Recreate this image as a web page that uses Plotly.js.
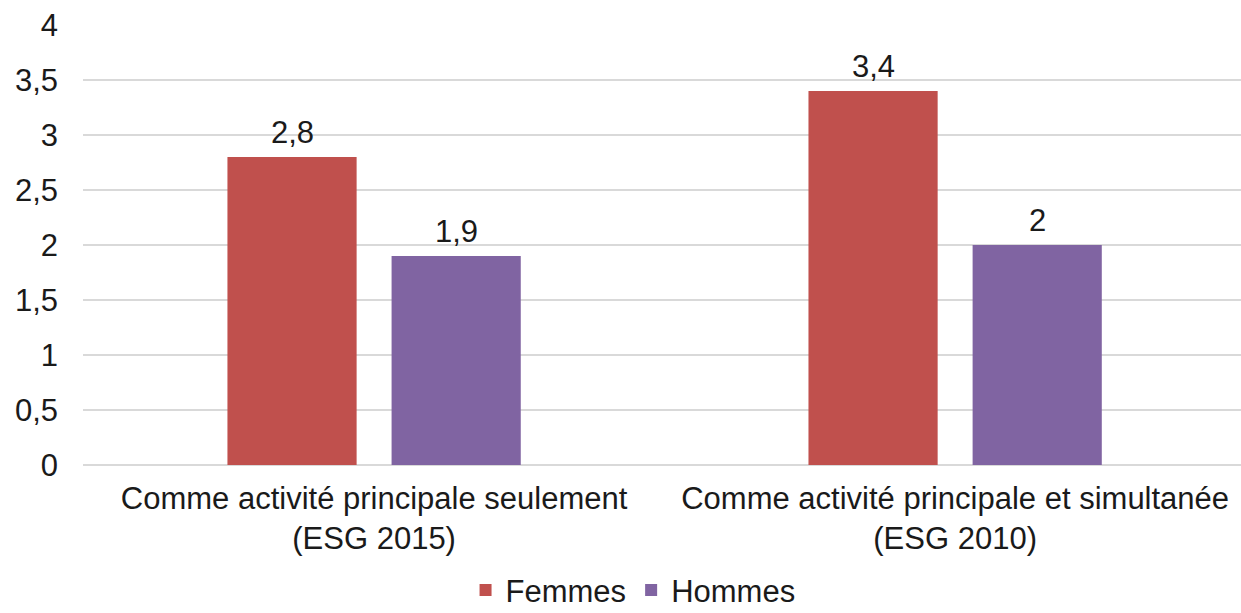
<!DOCTYPE html>
<html><head><meta charset="utf-8">
<script src="https://cdn.plot.ly/plotly-3.0.1.min.js"></script>
<style>html,body{margin:0;padding:0;background:#fff}#chart{width:1241px;height:613px}</style>
</head><body><div id="chart"></div>
<script>
const categories = ["Comme activité principale seulement<br>(ESG 2015)", "Comme activité principale et simultanée<br>(ESG 2010)"];
const femmes = [2.8, 3.4];
const hommes = [1.9, 2];
const seriesNames = ["Femmes", "Hommes"];
const seriesColors = ['#C0504D', '#8064A2'];
const yTicks = [0, 0.5, 1, 1.5, 2, 2.5, 3, 3.5, 4];

const fmt = v => String(v).replace('.', ',');
const font = {family: "Liberation Sans, Arial, sans-serif", size: 31, color: "#1a1a1a"};

const series = [femmes, hommes];
const traces = series.map((vals, i) => ({
  type: 'bar', name: seriesNames[i], x: categories, y: vals, marker: {color: seriesColors[i]},
  hoverinfo: 'none'
}));

// data labels above the bars (offset by half a bar slot in the group)
const annotations = [];
series.forEach((vals, i) => {
  vals.forEach((v, j) => {
    annotations.push({x: categories[j], y: v, text: fmt(v), showarrow: false,
      xshift: (i === 0 ? -82 : 82), yshift: 5, yanchor: 'bottom', font: font});
  });
});

const layout = {
  width: 1241, height: 613,
  margin: {l: 83, r: 0, t: 25, b: 148, autoexpand: false},
  paper_bgcolor: '#fff', plot_bgcolor: '#fff',
  font: font,
  barmode: 'group', bargap: 0.435, bargroupgap: 0.213,
  annotations: annotations,
  xaxis: {tickfont: font, showgrid: false, showline: false, ticks: '', zeroline: false,
          ticklabelstandoff: 12, automargin: false, range: [-0.501, 1.492]},
  yaxis: {range: [0, 4], tickvals: yTicks, ticktext: yTicks.map(fmt), tickfont: font, automargin: false,
          showgrid: true, gridcolor: '#d9d9d9', gridwidth: 1.5, zeroline: true, zerolinecolor: '#d9d9d9', zerolinewidth: 2,
          ticks: '', ticklen: 0, showline: false, ticklabelstandoff: 24},
  showlegend: true,
  legend: {orientation: 'h', x: 0.475, xanchor: 'center', y: -0.285, yanchor: 'middle', font: font, itemwidth: 30},
};

Plotly.newPlot('chart', traces, layout, {displayModeBar: false, staticPlot: true});
</script></body></html>
